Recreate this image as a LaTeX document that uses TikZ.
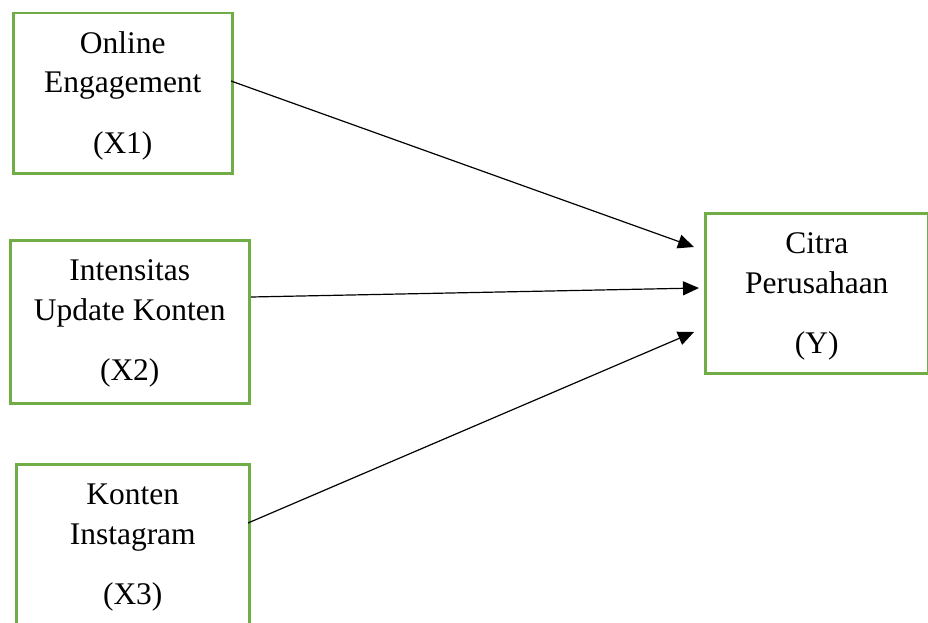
\documentclass[tikz,border=0pt]{standalone}
\usepackage{fontspec}
\setmainfont{Liberation Serif}
\usetikzlibrary{arrows.meta}
\definecolor{boxgreen}{HTML}{70AD47}
\tikzset{
  vbox/.style={draw=boxgreen, line width=2.5pt, rectangle, inner sep=0pt, anchor=north west},
  lbl/.style={align=center, font=\fontsize{31.5}{40}\selectfont, inner sep=0pt, anchor=base},
  link/.style={draw=black, line width=1.2pt, -{Triangle[length=16pt,width=14pt]}}
}
\begin{document}
\begin{tikzpicture}[x=1pt,y=-1pt]
\useasboundingbox (0,0) rectangle (928,623);
% boxes
\node[vbox, minimum width=219pt, minimum height=160pt] (x1) at (12,12) {};
\node[vbox, minimum width=239pt, minimum height=163pt] (x2) at (9,239) {};
\node[vbox, minimum width=233pt, minimum height=175pt] (x3) at (15,463) {};
\node[vbox, minimum width=223pt, minimum height=160pt] (y) at (704,212) {};
% labels (base anchor = baseline of last line)
\node[lbl] (t1) at ([yshift=-141pt]x1.north) {Online\\Engagement\\[20pt](X1)};
\node[lbl] (t2) at ([yshift=-141pt]x2.north) {Intensitas\\Update Konten\\[20pt](X2)};
\node[lbl] (t3) at ([yshift=-141pt]x3.north) {Konten\\Instagram\\[20pt](X3)};
\node[lbl] (ty) at ([yshift=-141pt]y.north) {Citra\\Perusahaan\\[20pt](Y)};
% tip coordinates
\coordinate (e1) at (694,247);
\coordinate (e2) at (699,288);
\coordinate (e3) at (694,332);
\coordinate (s1) at (231,81);
\coordinate (s2) at (251,297);
\coordinate (s3) at (248,523);
\draw[link] (s1) -- (e1);
\draw[link] (s2) -- (e2);
\draw[link] (s3) -- (e3);
\end{tikzpicture}
\end{document}
